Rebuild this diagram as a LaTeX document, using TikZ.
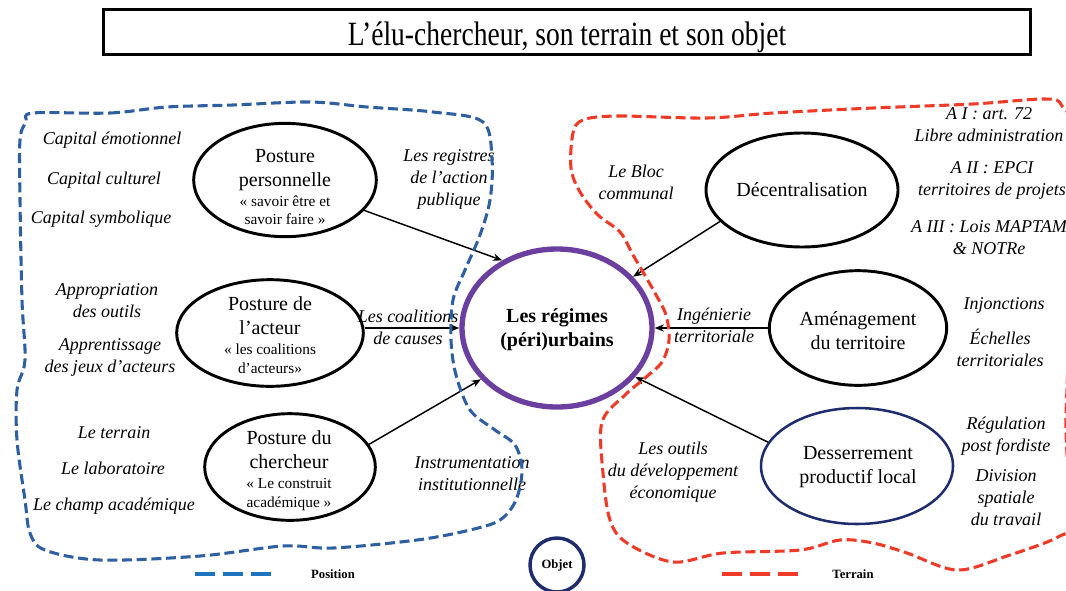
\documentclass[tikz,border=0pt]{standalone}
\usepackage{fontspec}
\setmainfont{Liberation Serif}
\newfontfamily\titlefont[FakeStretch=0.81]{Liberation Serif}
\usetikzlibrary{shapes.geometric,arrows.meta}
\definecolor{posblue}{RGB}{46,95,160}
\definecolor{legblue}{RGB}{30,115,190}
\definecolor{terred}{RGB}{240,58,40}
\definecolor{regpurple}{RGB}{107,63,160}
\definecolor{navyc}{RGB}{31,45,110}
\newcommand{\subtxt}{\fontsize{11.5}{14}\selectfont}
\tikzset{
 ell/.style={ellipse, draw=black, line width=2.2pt, inner sep=0pt},
 etext/.style={align=center, font=\fontsize{15}{18}\selectfont, inner sep=0pt},
 lbl/.style={align=center, font=\itshape\fontsize{13.5}{16.5}\selectfont, inner sep=0pt},
 arr/.style={-{Stealth[length=7pt,width=5.5pt]}, line width=1.1pt},
 loopblue/.style={draw=posblue, line width=2.3pt, dash pattern=on 7.5pt off 3.5pt},
 loopred/.style={draw=terred, line width=2.3pt, dash pattern=on 7.5pt off 3.5pt},
 legtext/.style={font=\bfseries\fontsize{9.5}{11}\selectfont, inner sep=0pt},
}
\begin{document}
\begin{tikzpicture}[x=0.75pt,y=-0.75pt]
\useasboundingbox (0,0) rectangle (1066,590);
\clip (0,0) rectangle (1066,590);

% title
\node[draw, line width=2pt, minimum width=695pt, minimum height=34pt, inner sep=0pt] (title) at (567,32) {};
\node[font=\titlefont\fontsize{25.5}{30}\selectfont, inner sep=0pt] (titleT) at (567,37) {L’élu-chercheur, son terrain et son objet};

% ellipses
\node[ell, minimum width=137pt, minimum height=85pt] (pp) at (285,180) {};
\node[ell, minimum width=140pt, minimum height=80pt] (pa) at (270,333) {};
\node[ell, minimum width=128pt, minimum height=80pt] (pc) at (290,467) {};
\node[ell, minimum width=144pt, minimum height=85.5pt] (dec) at (802,190) {};
\node[ell, minimum width=133pt, minimum height=86pt] (am) at (858,328) {};
\node[ell, draw=navyc, line width=1.9pt, minimum width=144pt, minimum height=87pt] (des) at (857,466) {};
\node[ellipse, draw=regpurple, line width=4pt, inner sep=0pt, minimum width=142.5pt, minimum height=118.5pt] (reg) at (557,328) {};
\node[circle, draw=navyc, line width=2.6pt, minimum size=40.5pt, inner sep=0pt, font=\bfseries\fontsize{9.5}{11}\selectfont] (obj) at (557,565) {Objet};

% ellipse texts
\node[etext] (ppT) at (285,187) {Posture\\personnelle\\[-3pt]\subtxt « savoir être et\\[-4pt]\subtxt savoir faire »};
\node[etext] (paT) at (270,335) {Posture de\\l’acteur\\[-3pt]\subtxt « les coalitions\\[-4pt]\subtxt d’acteurs»};
\node[etext] (pcT) at (289,471) {Posture du\\chercheur\\[-3pt]\subtxt « Le construit\\[-4pt]\subtxt académique »};
\node[etext] (decT) at (802,190) {Décentralisation};
\node[etext] (amT) at (858,331) {Aménagement\\du territoire};
\node[etext] (desT) at (858,467) {Desserrement\\productif local};
\node[etext, font=\bfseries\fontsize{15}{18}\selectfont] (regT) at (557,330) {Les régimes\\(péri)urbains};

% arrows
\draw[arr] (pp.-21) -- (reg.129);
\draw[arr] (pa.east |- reg.west) -- (reg.west);
\draw[arr] (pc.16) -- (reg.214);
\draw[arr] (dec.201) -- (reg.34);
\draw[arr] (am.west) -- (reg.east |- am.west);
\draw[arr] (des.165) -- (reg.-32);

% left labels
\node[lbl] (cap1) at (112,140) {Capital émotionnel};
\node[lbl] (cap2) at (104,180) {Capital culturel};
\node[lbl] (cap3) at (101,219) {Capital symbolique};
\node[lbl] (app1) at (107,301) {Appropriation\\des outils};
\node[lbl] (app2) at (110,357) {Apprentissage\\des jeux d’acteurs};
\node[lbl] (ter) at (114,433) {Le terrain};
\node[lbl] (labo) at (113,468) {Le laboratoire};
\node[lbl] (cham) at (114,506) {Le champ académique};

% connector labels
\node[lbl] (regi) at (449,179) {Les registres\\de l’action\\publique};
\node[lbl] (coal) at (408,327) {Les coalitions\\de causes};
\node[lbl] (inst) at (472,474) {Instrumentation\\institutionnelle};
\node[lbl] (bloc) at (636,182) {Le Bloc\\communal};
\node[lbl] (inge) at (714,325) {Ingénierie\\territoriale};
\node[lbl] (outi) at (673,472) {Les outils\\du développement\\économique};

% right labels
\node[lbl] (a1) at (989,125) {A I : art. 72\\Libre administration};
\node[lbl] (a2) at (992,180) {A II : EPCI\\territoires de projets};
\node[lbl] (a3) at (989,238) {A III : Lois MAPTAM\\\& NOTRe};
\node[lbl] (inj) at (1004,305) {Injonctions};
\node[lbl] (ech) at (1000,348) {Échelles\\territoriales};
\node[lbl] (regu) at (1006,436) {Régulation\\post fordiste};
\node[lbl] (divi) at (1006,498) {Division\\spatiale\\du travail};

% loops
\draw[loopblue] plot[smooth cycle, tension=0.55] coordinates {
(33,113) (110,113) (167,107) (233,105) (310,102) (367,107) (433,112) (483,122)
(492,160) (490,200) (480,235) (465,270) (453,300) (451,340) (456,375) (470,410)
(495,430) (515,445) (522,470) (516,500) (500,520) (470,530) (417,540) (333,548)
(283,546) (200,556) (100,560) (45,550) (30,533) (25,500) (17,440) (17,390)
(25,360) (22,300) (20,200) (20,140) (26,122)};
\draw[loopred] plot[smooth cycle, tension=0.55] coordinates {
(583,120) (617,116) (707,118) (773,113) (873,108) (973,104) (1045,99) (1062,106)
(1070,140) (1068,350) (1066,430) (1070,520) (1058,537) (1007,556) (957,570)
(907,553) (873,543) (840,540) (800,550) (723,553) (673,562) (627,543) (610,520)
(603,473) (602,422) (625,395) (645,378) (662,362) (669,340) (666,315) (655,293)
(643,272) (633,255) (620,232) (598,215) (580,192) (571,168) (573,133)};

% legend
\coordinate (lb1) at (195,574);
\coordinate (lb2) at (273,574);
\coordinate (lr1) at (722,574);
\coordinate (lr2) at (800,574);
\draw[legblue, line width=3pt, dash pattern=on 15pt off 6pt] (lb1) -- (lb2);
\draw[terred, line width=3pt, dash pattern=on 15pt off 6pt] (lr1) -- (lr2);
\node[legtext] (posT) at (333,574) {Position};
\node[legtext] (terT) at (853,574) {Terrain};
\end{tikzpicture}
\end{document}
